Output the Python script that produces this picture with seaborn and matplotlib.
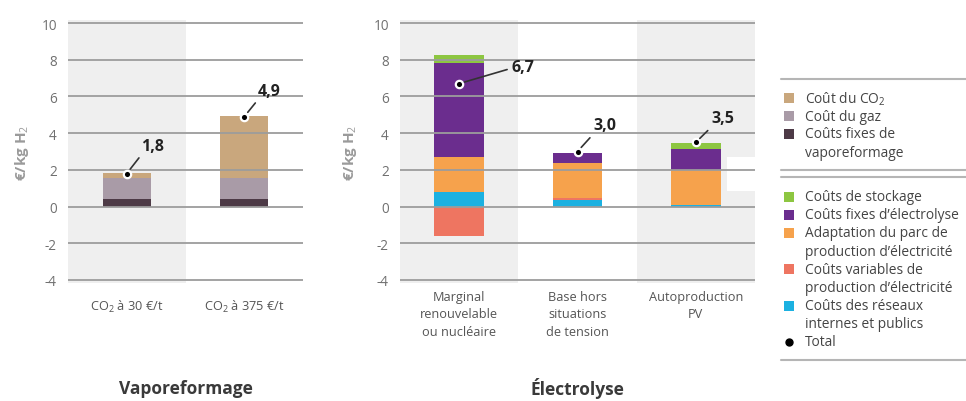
import numpy as np
import matplotlib
matplotlib.use("Agg")
import matplotlib.pyplot as plt
import seaborn as sns
from matplotlib.patches import Rectangle
from matplotlib.lines import Line2D

# ---------------- data ----------------
vapo_categories = ["CO$_2$ à 30 €/t", "CO$_2$ à 375 €/t"]
vapo_fixes = [0.43, 0.43]
vapo_gaz = [1.10, 1.12]
vapo_co2 = [0.30, 3.37]
vapo_total = [1.8, 4.9]
vapo_total_labels = ["1,8", "4,9"]

elec_categories = ["Marginal\nrenouvelable\nou nucléaire",
                   "Base hors\nsituations\nde tension",
                   "Autoproduction\nPV"]
elec_reseaux = [0.81, 0.38, 0.06]
elec_variables = [-1.62, 0.07, 0.0]
elec_adaptation = [1.87, 1.90, 1.94]
elec_fixes = [5.16, 0.57, 1.12]
elec_stockage = [0.39, 0.0, 0.33]
elec_total = [6.7, 3.0, 3.5]
elec_total_labels = ["6,7", "3,0", "3,5"]

yticks = [-4, -2, 0, 2, 4, 6, 8, 10]

# ---------------- style ----------------
C_CO2 = "#c9a77d"
C_GAZ = "#a99ba7"
C_FIX_V = "#4d3a46"
C_STOCK = "#8dc641"
C_ELEC = "#6b2d8e"
C_ADAPT = "#f6a24c"
C_VAR = "#ee7561"
C_RES = "#1cb1e1"
C_SHADE = "#efefef"
C_GRID = "#9c9c9c"

sns.set_theme(style="white")
plt.rcParams["font.family"] = ["Open Sans", "DejaVu Sans"]
plt.rcParams["mathtext.fontset"] = "custom"
plt.rcParams["mathtext.rm"] = "Open Sans"
plt.rcParams["mathtext.it"] = "Open Sans"
plt.rcParams["mathtext.bf"] = "Open Sans:bold"
plt.rcParams["axes.unicode_minus"] = False

W, H = 966, 402
fig = plt.figure(figsize=(W / 100, H / 100), dpi=100)


def fx(px):
    return px / W


def fy(py):
    return 1 - py / H


top_px, bot_px = 21.25, 283.75
ax1 = fig.add_axes([fx(68), fy(bot_px), (303 - 68) / W, (bot_px - top_px) / H])
ax2 = fig.add_axes([fx(400), fy(bot_px), (755 - 400) / W, (bot_px - top_px) / H])


def stack(ax, cats, series, width):
    pos_base = np.zeros(len(cats))
    neg_base = np.zeros(len(cats))
    for vals, col in series:
        vals = np.asarray(vals, dtype=float)
        bottoms = np.where(vals >= 0, pos_base, neg_base)
        sns.barplot(x=cats, y=vals, bottom=bottoms, color=col, saturation=1,
                    width=width, errorbar=None, ax=ax, linewidth=0, zorder=2)
        pos_base = pos_base + np.where(vals >= 0, vals, 0)
        neg_base = neg_base + np.where(vals < 0, vals, 0)


stack(ax1, vapo_categories,
      [(vapo_fixes, C_FIX_V), (vapo_gaz, C_GAZ), (vapo_co2, C_CO2)], 0.41)
stack(ax2, elec_categories,
      [(elec_reseaux, C_RES), (elec_variables, C_VAR), (elec_adaptation, C_ADAPT),
       (elec_fixes, C_ELEC), (elec_stockage, C_STOCK)], 0.42)

for ax, n, shaded in [(ax1, 2, [0]), (ax2, 3, [0, 2])]:
    ax.set_xlim(-0.5, n - 0.5)
    ax.set_ylim(-4.15, 10.15)
    for i in shaded:
        ax.axvspan(i - 0.5, i + 0.5, color=C_SHADE, zorder=0, lw=0)
    ax.set_yticks(yticks)
    ax.set_yticklabels([str(t) for t in yticks])
    ax.grid(axis="y", color=C_GRID, lw=1.3, zorder=1)
    ax.set_axisbelow(False)
    for gl in ax.get_ygridlines():
        gl.set_zorder(1)
    for s in ax.spines.values():
        s.set_visible(False)
    ax.tick_params(axis="y", length=0, pad=8, labelsize=9.8, labelcolor="#707070")
    ax.tick_params(axis="x", length=0, labelsize=9.2, labelcolor="#555555")
    ax.set_xlabel("")
    ax.set_ylabel("€/kg H$_2$", color="#9a9a9a", fontweight="bold", fontsize=11)
    ax.yaxis.label.set_va("center")
    ax.set_facecolor("none")

ax1.tick_params(axis="x", pad=11)
ax2.tick_params(axis="x", pad=5)
for lab in ax2.get_xticklabels():
    lab.set_linespacing(1.45)
ax1.yaxis.set_label_coords(-46 / 235, 0.5)
ax2.yaxis.set_label_coords(-50 / 355, 0.5)

# white block at the right of the electrolysis panel
ax2.add_patch(Rectangle((0.921, 0.3495), 0.08, 0.13, transform=ax2.transAxes,
                        facecolor="white", edgecolor="none", zorder=0.5))


def totals(ax, vals, labels, offsets, relposes):
    xs = np.arange(len(vals))
    ax.scatter(xs, vals, s=28, color="black", edgecolors="white",
               linewidths=1.6, zorder=6)
    for x, v, lab, off, rp in zip(xs, vals, labels, offsets, relposes):
        ax.annotate(lab, xy=(x, v), xytext=off, textcoords="offset pixels",
                    ha="center", va="center", fontsize=11.5, fontweight="bold",
                    color="#222222", zorder=7,
                    arrowprops=dict(arrowstyle="-", color="#333333", lw=1.2,
                                    shrinkA=1, shrinkB=4, relpos=rp))


totals(ax1, vapo_total, vapo_total_labels, [(26, 28), (25, 26)],
       [(0.1, 0.1), (0.1, 0.1)])
totals(ax2, elec_total, elec_total_labels, [(64, 17), (27, 26), (27, 24)],
       [(0.0, 0.4), (0.1, 0.1), (0.1, 0.1)])

# titles
fig.text(fx(186), fy(389), "Vaporeformage", ha="center", va="center",
         fontsize=12.5, fontweight="bold", color="#3a3a3a")
fig.text(fx(577), fy(389), "Électrolyse", ha="center", va="center",
         fontsize=12.5, fontweight="bold", color="#3a3a3a")

# legend (drawn manually)
LX0 = 781
for y in [80, 171, 177.5, 361]:
    fig.add_artist(Line2D([fx(LX0), 1.0], [fy(y), fy(y)], color="#b5b5b5", lw=1.5))

legend_items = [
    (C_CO2, ["Coût du CO$_2$"], 99.3),
    (C_GAZ, ["Coût du gaz"], 117.3),
    (C_FIX_V, ["Coûts fixes de", "vaporeformage"], 135),
    (C_STOCK, ["Coûts de stockage"], 197.7),
    (C_ELEC, ["Coûts fixes d’électrolyse"], 215.7),
    (C_ADAPT, ["Adaptation du parc de", "production d’électricité"], 234),
    (C_VAR, ["Coûts variables de", "production d’électricité"], 270),
    (C_RES, ["Coûts des réseaux", "internes et publics"], 306.7),
]
LS = 18.2
LFS = 9.9
for col, lines, y in legend_items:
    fig.add_artist(Rectangle((fx(784), fy(y + 5)), 10 / W, 10 / H, transform=fig.transFigure,
                             facecolor=col, edgecolor="none"))
    for k, t in enumerate(lines):
        fig.text(fx(805), fy(y + k * LS), t, ha="left", va="center",
                 fontsize=LFS, color="#444444")
fig.add_artist(Line2D([fx(789)], [fy(342.7)], marker="o", markersize=5,
                      color="black", transform=fig.transFigure))
fig.text(fx(805), fy(342.7), "Total", ha="left", va="center", fontsize=LFS, color="#444444")

fig.savefig("out.png", dpi=100)
